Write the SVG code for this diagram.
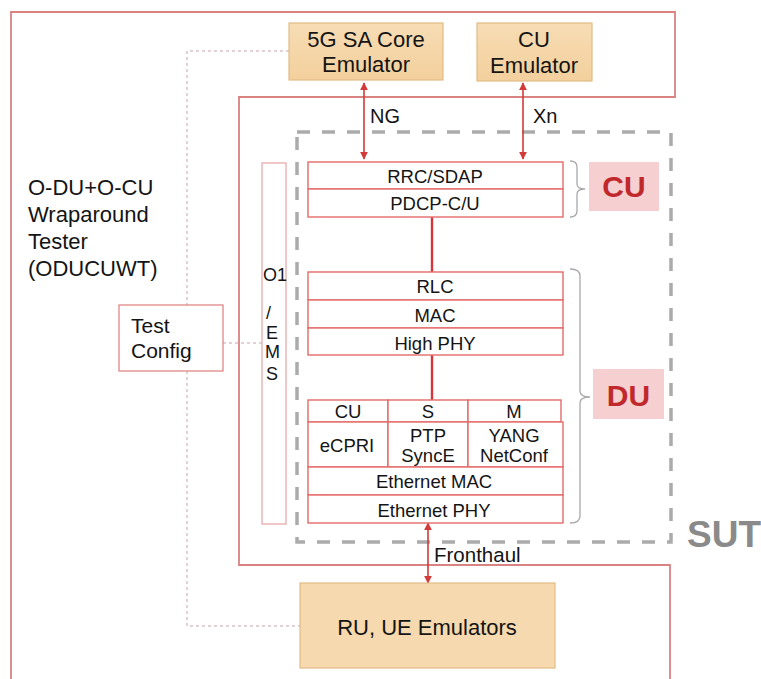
<svg xmlns="http://www.w3.org/2000/svg" width="761" height="679" viewBox="0 0 761 679">
<style>
text{font-family:"Liberation Sans",Arial,sans-serif;fill:#141414}
.emu{fill:url(#emuGrad);stroke:#e2bb85;stroke-width:1.2}
.layer{fill:#fff;stroke:#e46a6a;stroke-width:1.4}
.lbl{font-size:18.5px;text-anchor:middle}
.big{font-size:22px}
.tag{fill:#f6d0d0}
.tagt{font-size:30px;font-weight:bold;text-anchor:middle;fill:#c0282c}
.brace{fill:none;stroke:#a9a9a9;stroke-width:1.3}
.dot{fill:none;stroke:#c9a3ab;stroke-width:1;stroke-dasharray:3 3}
.arrow{stroke:#d33a3a;stroke-width:1.6;marker-start:url(#ah);marker-end:url(#ah)}
.link{stroke:#d8343c;stroke-width:2.4}
</style>
<defs>
<linearGradient id="emuGrad" x1="0" y1="0" x2="0" y2="1">
<stop offset="0" stop-color="#f7dcb4"/>
<stop offset="1" stop-color="#f3d09d"/>
</linearGradient>
<marker id="ah" viewBox="0 0 10 10" refX="9" refY="5" markerWidth="8" markerHeight="8" orient="auto-start-reverse" markerUnits="userSpaceOnUse">
<path d="M0,0 L10,5 L0,10 z" fill="#d33a3a"/>
</marker>
</defs>
<rect width="761" height="679" fill="#fff"/>

<g id="tester">
<path d="M11,679 L11,12 L675,12 L675,97 L239,97 L239,565 L670,565 L670,679" fill="none" stroke="#d98282" stroke-width="1.8"/>
<text class="big" x="28" y="195">O-DU+O-CU</text>
<text class="big" x="28" y="222">Wraparound</text>
<text class="big" x="28" y="249">Tester</text>
<text class="big" x="28" y="276">(ODUCUWT)</text>
</g>

<g id="sut">
<rect x="297" y="132" width="374" height="410" fill="none" stroke="#ababab" stroke-width="3.5" stroke-dasharray="13 12"/>
<text x="687" y="547" style="font-size:37px;font-weight:bold;fill:#8a8a8a">SUT</text>
</g>

<g id="connectors">
<path class="dot" d="M289,51 L187,51 L187,305"/>
<path class="dot" d="M187,371 L187,626 L300,626"/>
<path class="dot" d="M223,343 L262,343"/>
<line class="arrow" x1="364" y1="83" x2="364" y2="159"/>
<line class="arrow" x1="523" y1="83" x2="523" y2="159"/>
<line class="arrow" x1="428" y1="523" x2="428" y2="583"/>
<line class="link" x1="432" y1="217" x2="432" y2="272"/>
<line class="link" x1="432" y1="355" x2="432" y2="400"/>
<text x="370" y="123" style="font-size:20px">NG</text>
<text x="533" y="123" style="font-size:20px">Xn</text>
<text x="434" y="562" style="font-size:20.5px">Fronthaul</text>
</g>

<g id="core-emulator">
<rect class="emu" x="289" y="23" width="154" height="57"/>
<text class="big" x="366" y="47" text-anchor="middle">5G SA Core</text>
<text class="big" x="366" y="72" text-anchor="middle">Emulator</text>
</g>

<g id="cu-emulator">
<rect class="emu" x="477" y="23" width="115" height="58"/>
<text class="big" x="534" y="47" text-anchor="middle">CU</text>
<text class="big" x="534" y="73" text-anchor="middle">Emulator</text>
</g>

<g id="test-config">
<rect x="119" y="305" width="104" height="66" fill="#fff" stroke="#e08888" stroke-width="1.3"/>
<text x="131" y="333" style="font-size:21px">Test</text>
<text x="131" y="358" style="font-size:21px">Config</text>
</g>

<g id="o1-ems">
<rect x="262" y="163" width="24" height="361" fill="#fff" stroke="#e8a3a3" stroke-width="1.2"/>
<text x="263" y="281" style="font-size:18px">O1</text>
<text x="266" y="319" style="font-size:18px">/</text>
<text x="266" y="339" style="font-size:18px">E</text>
<text x="265" y="358" style="font-size:18px">M</text>
<text x="266" y="380" style="font-size:18px">S</text>
</g>

<g id="cu-stack">
<rect class="layer" x="308" y="162" width="255" height="27"/>
<text class="lbl" x="435" y="183">RRC/SDAP</text>
<rect class="layer" x="308" y="189" width="255" height="28"/>
<text class="lbl" x="435" y="210">PDCP-C/U</text>
</g>

<g id="du-upper">
<rect class="layer" x="308" y="272" width="255" height="28"/>
<text class="lbl" x="435" y="293">RLC</text>
<rect class="layer" x="308" y="300" width="255" height="28"/>
<text class="lbl" x="435" y="322">MAC</text>
<rect class="layer" x="308" y="328" width="255" height="27"/>
<text class="lbl" x="435" y="350">High PHY</text>
</g>

<g id="du-lower">
<rect class="layer" x="308" y="400" width="80" height="22"/>
<text class="lbl" x="348" y="418">CU</text>
<rect class="layer" x="388" y="400" width="80" height="22"/>
<text class="lbl" x="428" y="418">S</text>
<rect class="layer" x="468" y="400" width="93" height="22"/>
<text class="lbl" x="514" y="418">M</text>
<rect class="layer" x="308" y="422" width="80" height="45"/>
<text class="lbl" x="347" y="452">eCPRI</text>
<rect class="layer" x="388" y="422" width="80" height="45"/>
<text class="lbl" x="428" y="442">PTP</text>
<text class="lbl" x="428" y="462">SyncE</text>
<rect class="layer" x="468" y="422" width="95" height="45"/>
<text class="lbl" x="514" y="442">YANG</text>
<text class="lbl" x="514" y="462">NetConf</text>
<rect class="layer" x="308" y="467" width="255" height="28"/>
<text class="lbl" x="434" y="488">Ethernet MAC</text>
<rect class="layer" x="308" y="495" width="255" height="28"/>
<text class="lbl" x="434" y="517">Ethernet PHY</text>
</g>

<g id="cu-label">
<path class="brace" d="M570,161 Q577,161 577,167 L577,184 Q577,189 585,189 Q577,189 577,194 L577,211 Q577,217 570,217"/>
<rect class="tag" x="589" y="162" width="70" height="49"/>
<text class="tagt" x="624" y="197">CU</text>
</g>

<g id="du-label">
<path class="brace" d="M570,269 Q580,269 580,276 L580,391 Q580,397 590,397 Q580,397 580,403 L580,516 Q580,523 570,523"/>
<rect class="tag" x="593" y="369" width="71" height="50"/>
<text class="tagt" x="628.5" y="406">DU</text>
</g>

<g id="ru-ue-emulators">
<rect x="300" y="583" width="255" height="85" fill="#f6d9ae" stroke="#e2bb85" stroke-width="1.2"/>
<text class="big" x="427" y="635" text-anchor="middle">RU, UE Emulators</text>
</g>
</svg>
